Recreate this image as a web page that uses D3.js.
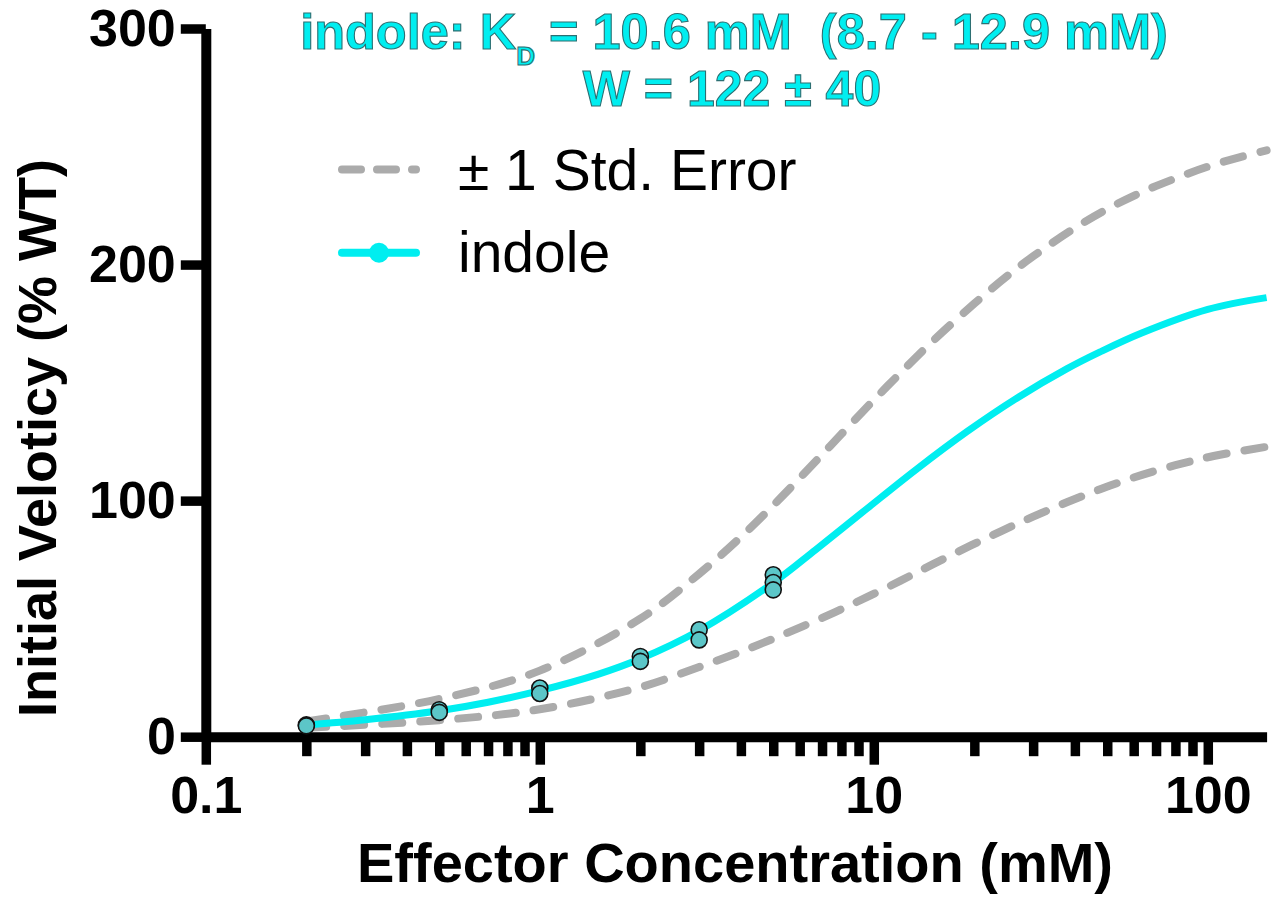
<!DOCTYPE html>
<html>
<head>
<meta charset="utf-8">
<script src="https://cdn.jsdelivr.net/npm/d3@7"></script>
<style>
  body { margin: 0; background: #fff; }
  svg { display: block; font-family: "Liberation Sans", Arial, Helvetica, sans-serif; }
</style>
</head>
<body>
<div id="chart"></div>
<script>
// Measured initial velocities (% WT) at each indole concentration (mM)
const pointConc = [0.2, 0.2, 0.5, 0.5, 1, 1, 2, 2, 3, 3, 5, 5, 5];
const pointVel  = [5.0, 4.6, 11.4, 10.3, 20.6, 18.3, 34, 31.9, 45.3, 41, 68.6, 65.3, 62.2];

// Fitted curve
const fitConc = [0.2, 0.3, 0.5, 0.7, 1, 1.5, 2, 3, 5, 6.7, 9.5, 13.4, 19, 26.8, 37.8, 47.6, 63.4, 100, 150];
const fitVel  = [5.0, 7.2, 11, 14.6, 19.5, 26.5, 33, 45, 65.2, 79.2, 96.4, 113.2, 129.2, 143.4, 155.8, 163, 171, 181, 186];

// +/- 1 std. error bands
const upperConc = [0.2, 0.5, 1, 2, 3, 4, 5, 6, 7, 8, 10, 12, 15, 20, 25, 30, 40, 50, 63, 80, 100, 125, 150];
const upperVel  = [6.5, 16, 28, 50, 69, 84.6, 98, 109.5, 119.5, 128.2, 142.6, 154, 167.5, 183.5, 195, 203.5, 215.5, 223.5, 230.5, 236.5, 241.5, 245.5, 248.4];
const lowerConc = [0.2, 0.5, 1, 2, 3, 4, 5, 6, 7.6, 9.5, 12, 15, 19, 24, 30, 38, 47.6, 60, 80, 105, 150];
const lowerVel  = [3.8, 7.0, 11.6, 21, 29.5, 36, 41.5, 46.2, 52.6, 59, 66, 73, 80.2, 87, 93.2, 99.4, 104.8, 109.8, 115, 119, 122.8];

// Axis ticks
const xMajorTicks = [0.1, 1, 10, 100];
const xMinorTicks = [0.2, 0.3, 0.4, 0.5, 0.6, 0.7, 0.8, 0.9, 2, 3, 4, 5, 6, 7, 8, 9, 20, 30, 40, 50, 60, 70, 80, 90];
const yTicks = [0, 100, 200, 300];

const width = 1275, height = 917;
const cyan = '#00eef0';
const grey = '#ababab';

const svg = d3.select('#chart')
    .append('svg')
    .attr('width', width)
    .attr('height', height);

svg.append('rect').attr('width', width).attr('height', height).attr('fill', '#fff');

const x = d3.scaleLog().domain([0.1, 150]).range([205.8, 1266.6]);
const y = d3.scaleLinear().domain([0, 300]).range([736.7, 28.5]);

// Axes
const xMinor = svg.append('g')
    .attr('transform', `translate(0,${y(0)})`)
    .call(d3.axisBottom(x).tickValues(xMinorTicks).tickSize(19.5).tickFormat('').tickSizeOuter(0));
xMinor.select('.domain').remove();

const xMajor = svg.append('g')
    .attr('transform', `translate(0,${y(0)})`)
    .call(d3.axisBottom(x)
        .tickValues(xMajorTicks)
        .tickSize(28)
        .tickPadding(11)
        .tickSizeOuter(0)
        .tickFormat(d => d3.format('~g')(d)));

const yAxis = svg.append('g')
    .attr('transform', `translate(${x(0.1)},0)`)
    .call(d3.axisLeft(y).tickValues(yTicks).tickSize(25).tickPadding(5).tickSizeOuter(0));

[xMinor, xMajor, yAxis].forEach(g => {
    g.selectAll('.domain').attr('stroke', '#000').attr('stroke-width', 10);
    g.selectAll('.tick line').attr('stroke', '#000').attr('stroke-width', 9.5);
    g.selectAll('.tick text')
        .attr('fill', '#000')
        .style('font-size', '52px')
        .style('font-weight', 'bold');
});

// Axis titles
svg.append('text')
    .attr('x', 735)
    .attr('y', 882)
    .attr('text-anchor', 'middle')
    .style('font-size', '56px')
    .style('font-weight', 'bold')
    .text('Effector Concentration (mM)');

svg.append('text')
    .attr('transform', 'translate(56,438) rotate(-90)')
    .attr('text-anchor', 'middle')
    .style('font-size', '54px')
    .style('font-weight', 'bold')
    .text('Initial Veloticy (% WT)');

// Curves
const line = d3.line()
    .x(d => x(d[0]))
    .y(d => y(d[1]))
    .curve(d3.curveCatmullRom.alpha(0.5));

[[upperConc, upperVel], [lowerConc, lowerVel]].forEach(([cs, vs]) => {
    svg.append('path')
        .datum(d3.zip(cs, vs))
        .attr('d', line)
        .attr('fill', 'none')
        .attr('stroke', grey)
        .attr('stroke-width', 8)
        .attr('stroke-linecap', 'round')
        .attr('stroke-dasharray', '20,18');
});

svg.append('path')
    .datum(d3.zip(fitConc, fitVel))
    .attr('d', line)
    .attr('fill', 'none')
    .attr('stroke', cyan)
    .attr('stroke-width', 7);

svg.append('g')
    .selectAll('circle')
    .data(d3.zip(pointConc, pointVel))
    .enter()
    .append('circle')
    .attr('cx', d => x(d[0]))
    .attr('cy', d => y(d[1]))
    .attr('r', 8)
    .attr('fill', '#5cc6c8')
    .attr('stroke', '#111')
    .attr('stroke-width', 1.6);

// Legend
const legend = svg.append('g');
legend.append('line')
    .attr('x1', 342).attr('x2', 416)
    .attr('y1', 169.5).attr('y2', 169.5)
    .attr('stroke', grey)
    .attr('stroke-width', 8)
    .attr('stroke-linecap', 'round')
    .attr('stroke-dasharray', '19,16');
legend.append('text')
    .attr('x', 458).attr('y', 190)
    .style('font-size', '57px')
    .text('± 1 Std. Error');

legend.append('line')
    .attr('x1', 342).attr('x2', 416)
    .attr('y1', 252.7).attr('y2', 252.7)
    .attr('stroke', cyan)
    .attr('stroke-width', 8)
    .attr('stroke-linecap', 'round');
legend.append('circle')
    .attr('cx', 379).attr('cy', 252.7)
    .attr('r', 10)
    .attr('fill', cyan);
legend.append('text')
    .attr('x', 458).attr('y', 272)
    .style('font-size', '57px')
    .text('indole');

// Fit summary
const title = svg.append('g')
    .attr('fill', cyan)
    .attr('stroke', '#2d6f72')
    .attr('stroke-width', 1.1)
    .style('font-weight', 'bold');

const t1 = title.append('text')
    .attr('xml:space', 'preserve')
    .attr('x', 734).attr('y', 49)
    .attr('text-anchor', 'middle')
    .style('white-space', 'pre')
    .style('font-size', '50.5px');
t1.append('tspan').text('indole: K');
t1.append('tspan').attr('dy', 16).style('font-size', '26px').text('D');
t1.append('tspan').attr('dy', -16).text(' = 10.6 mM  (8.7 - 12.9 mM)');

title.append('text')
    .attr('x', 732).attr('y', 106)
    .attr('text-anchor', 'middle')
    .style('font-size', '50px')
    .text('W = 122 ± 40');
</script>
</body>
</html>
